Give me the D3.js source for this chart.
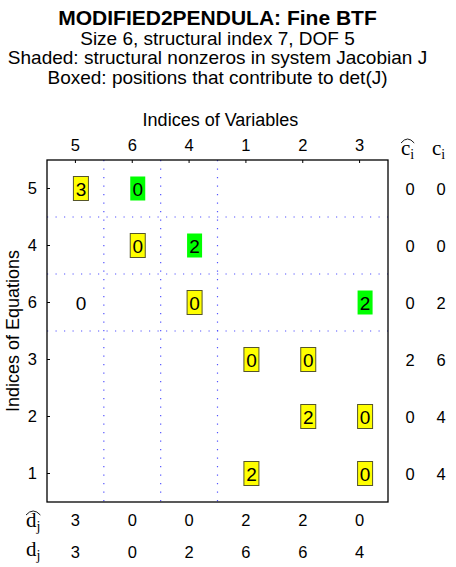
<!DOCTYPE html>
<html>
<head>
<meta charset="utf-8">
<script src="https://cdn.jsdelivr.net/npm/d3@7"></script>
<style>
  body { margin: 0; background: #fff; }
  svg { display: block; font-family: 'Liberation Sans', Arial, sans-serif; }
  .serif { font-family: 'Liberation Serif', 'Times New Roman', serif; }
</style>
</head>
<body>
<div id="graf"></div>
<script>
// Etiquetas de filas (ecuaciones) y columnas (variables) en el orden del BTF
rowLabels = ['5', '4', '6', '3', '2', '1']
colLabels = ['5', '6', '4', '1', '2', '3']

// Offsets de la derecha y de abajo
cHat = [0, 0, 0, 2, 0, 0]
cVal = [0, 0, 2, 6, 4, 4]
dHat = [3, 0, 0, 2, 2, 0]
dVal = [3, 0, 2, 6, 6, 4]

// Celdas no nulas: fila, columna, valor y tipo (boxed = amarillo con borde, shaded = verde)
cellRows  = ['5', '5', '4', '4', '6', '6', '6', '3', '3', '2', '2', '1', '1']
cellCols  = ['5', '6', '6', '4', '5', '4', '3', '1', '2', '2', '3', '1', '3']
cellVals  = [ 3,   0,   0,   2,   0,   0,   2,   0,   0,   2,   0,   2,   0 ]
cellKinds = ['boxed', 'shaded', 'boxed', 'shaded', 'plain', 'boxed', 'shaded',
             'boxed', 'boxed', 'boxed', 'boxed', 'boxed', 'boxed']

// Limites de bloques (despues de cuantas filas / columnas)
blockBreaks = [1, 2, 3]

titleText = 'MODIFIED2PENDULA: Fine BTF'
subTitles = ['Size 6, structural index 7, DOF 5',
             'Shaded: structural nonzeros in system Jacobian J',
             'Boxed: positions that contribute to det(J)']

// Dimensiones
ancho_total = 456
alto_total = 567
margen = { superior: 160, izquierdo: 47, derecho: 68, inferior: 65 }

svg = d3.select('#graf').append('svg')
        .attr('width', ancho_total)
        .attr('height', alto_total)

// Escaladores de bandas para columnas y filas
x = d3.scaleBand()
      .domain(colLabels)
      .range([margen.izquierdo, ancho_total - margen.derecho])
y = d3.scaleBand()
      .domain(rowLabels)
      .range([margen.superior, alto_total - margen.inferior])

cx = d => x(d) + x.bandwidth() / 2
cy = d => y(d) + y.bandwidth() / 2
x0 = x.range()[0], x1 = x.range()[1]
y0 = y.range()[0], y1 = y.range()[1]
centroX = (x0 + x1) / 2

// Titulo y subtitulos (centrados sobre el area de la grafica)
svg.append('text')
   .attr('x', centroX)
   .attr('y', 25)
   .attr('text-anchor', 'middle')
   .style('font-weight', 'bold')
   .style('font-size', '21px')
   .text(titleText)

svg.selectAll('.sub')
   .data(subTitles)
   .enter()
   .append('text')
   .attr('class', 'sub')
   .attr('x', centroX)
   .attr('y', (d, i) => 44.5 + i * 19.5)
   .attr('text-anchor', 'middle')
   .style('font-size', '19px')
   .text(d => d)

// Lineas punteadas entre bloques
svg.selectAll('.vbreak')
   .data(blockBreaks)
   .enter()
   .append('line')
   .attr('x1', d => x(colLabels[d]))
   .attr('x2', d => x(colLabels[d]))
   .attr('y1', y0)
   .attr('y2', y1)
   .attr('stroke', '#5555ff')
   .attr('stroke-width', 1.2)
   .attr('stroke-dasharray', '1.2,7.3')

svg.selectAll('.hbreak')
   .data(blockBreaks)
   .enter()
   .append('line')
   .attr('y1', d => y(rowLabels[d]))
   .attr('y2', d => y(rowLabels[d]))
   .attr('x1', x0)
   .attr('x2', x1)
   .attr('stroke', '#5555ff')
   .attr('stroke-width', 1.2)
   .attr('stroke-dasharray', '1.2,7.3')

// Marco de la grafica
svg.append('rect')
   .attr('x', x0)
   .attr('y', y0)
   .attr('width', x1 - x0)
   .attr('height', y1 - y0)
   .attr('fill', 'none')
   .attr('stroke', '#000')
   .attr('stroke-width', 1.3)

// Ejes: arriba columnas, izquierda filas, ticks hacia adentro
xAxis = svg.append('g')
           .attr('transform', `translate(0, ${y0})`)
           .call(d3.axisTop(x).tickSizeInner(-3).tickSizeOuter(0).tickPadding(9))
yAxis = svg.append('g')
           .attr('transform', `translate(${x0}, 0)`)
           .call(d3.axisLeft(y).tickSizeInner(-3).tickSizeOuter(0).tickPadding(10))
svg.selectAll('.domain').remove()
svg.selectAll('.tick line').attr('stroke', '#000')
svg.selectAll('.tick text')
   .style('font-size', '16.5px')
   .style('font-family', "'Liberation Sans', Arial, sans-serif")
   .attr('fill', '#000')

// Titulos de ejes
svg.append('text')
   .attr('x', centroX + 3)
   .attr('y', 126)
   .attr('text-anchor', 'middle')
   .style('font-size', '18px')
   .text('Indices of Variables')

svg.append('text')
   .attr('transform', `translate(19, ${(y0 + y1) / 2}) rotate(-90)`)
   .attr('text-anchor', 'middle')
   .style('font-size', '18px')
   .text('Indices of Equations')

// Celdas
cells = cellRows.map((r, i) => ({ r: r, c: cellCols[i], v: cellVals[i], k: cellKinds[i] }))
offX = 5.5

svg.selectAll('.bg')
   .data(cells.filter(d => d.k != 'plain'))
   .enter()
   .append('rect')
   .attr('x', d => cx(d.c) + offX - 7.5)
   .attr('y', d => cy(d.r) - 12)
   .attr('width', 15)
   .attr('height', 24)
   .attr('fill', d => d.k == 'boxed' ? '#ffff00' : '#00ff00')
   .attr('stroke', d => d.k == 'boxed' ? '#55552a' : 'none')
   .attr('stroke-width', 1)

svg.selectAll('.val')
   .data(cells)
   .enter()
   .append('text')
   .attr('x', d => cx(d.c) + offX)
   .attr('y', d => cy(d.r) + 7)
   .attr('text-anchor', 'middle')
   .style('font-size', '19px')
   .text(d => d.v)

// Columnas a la derecha: c sombrero y c
colRight = [ { x: 410, vals: cHat }, { x: 441, vals: cVal } ]
colRight.forEach(col => {
  svg.selectAll(null)
     .data(col.vals)
     .enter()
     .append('text')
     .attr('x', col.x)
     .attr('y', (d, i) => cy(rowLabels[i]) + 6)
     .attr('text-anchor', 'middle')
     .style('font-size', '16.5px')
     .text(d => d)
})

// Filas de abajo: d sombrero y d
rowBottom = [ { y: 526, vals: dHat }, { y: 558, vals: dVal } ]
rowBottom.forEach(rw => {
  svg.selectAll(null)
     .data(rw.vals)
     .enter()
     .append('text')
     .attr('x', (d, i) => cx(colLabels[i]))
     .attr('y', rw.y)
     .attr('text-anchor', 'middle')
     .style('font-size', '16.5px')
     .text(d => d)
})

// Etiquetas matematicas en serif
function mathLabel(px, py, letra, sub, hat) {
  t = svg.append('text')
         .attr('class', 'serif')
         .attr('x', px)
         .attr('y', py)
         .style('font-size', '21px')
  t.append('tspan').text(letra)
  t.append('tspan')
   .attr('dy', 4)
   .style('font-size', '14px')
   .text(sub)
  if (hat) {
    w = t.node().getComputedTextLength()
    svg.append('path')
       .attr('d', `M${px},${py - 12} Q${px + w / 2},${py - 20} ${px + w},${py - 12}`)
       .attr('fill', 'none')
       .attr('stroke', '#000')
       .attr('stroke-width', 0.9)
  }
}
mathLabel(401, 155, 'c', 'i', true)
mathLabel(432, 155, 'c', 'i', false)
mathLabel(26, 527, 'd', 'j', true)
mathLabel(26, 556, 'd', 'j', false)
</script>
</body>
</html>
